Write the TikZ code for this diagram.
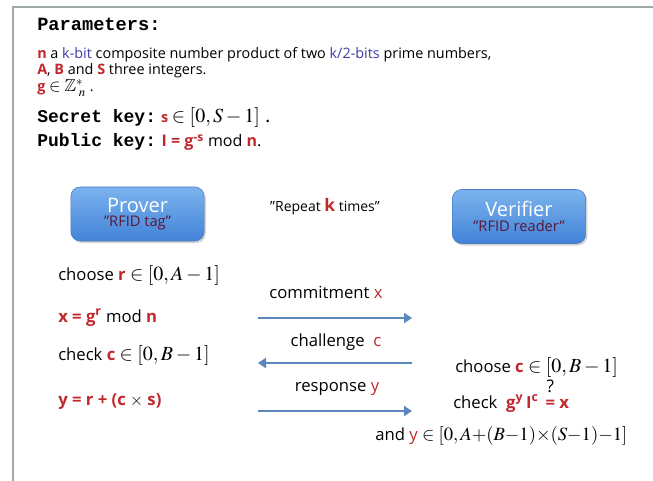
\documentclass[tikz,border=0pt]{standalone}
\usepackage{amsmath,amssymb}
\usepackage{mathptmx}
\usepackage{fontspec}
\setmainfont{Open Sans}
\setmonofont{Liberation Mono}
\usepackage{tikz}
\usetikzlibrary{arrows.meta,positioning,shadows}
\definecolor{keyred}{HTML}{C0282C}
\definecolor{bitblue}{HTML}{3C3CA8}
\definecolor{tagred}{HTML}{5C1637}
\definecolor{msgblue}{HTML}{5A88BD}
\definecolor{framegray}{HTML}{A0A8A8}
\definecolor{boxtop}{HTML}{7CB3EE}
\definecolor{boxbot}{HTML}{4283D8}
\definecolor{boxedge}{HTML}{4A7CC0}
\newcommand{\kr}[1]{\textcolor{keyred}{\textbf{#1}}}
\newcommand{\mth}[1]{{\fontsize{15}{17}\selectfont$#1$}}
\newcommand{\dq}{\symbol{34}}
\tikzset{
  hdr/.style={anchor=base west, inner sep=0pt, font=\ttfamily\bfseries\fontsize{14}{16}\selectfont}
}

\begin{document}
\begin{tikzpicture}[x=0.75pt, y=-0.75pt,
  partxt/.style={anchor=base west, inner sep=0pt, font=\fontsize{10.8}{13}\selectfont},
  txt/.style={anchor=base west, inner sep=0pt, font=\fontsize{12.5}{15}\selectfont},
  lbl/.style={anchor=base, inner sep=0pt, font=\fontsize{12.5}{15}\selectfont},
  party/.style={draw=boxedge, rounded corners=7pt, top color=boxtop, bottom color=boxbot,
    minimum width=100pt, minimum height=40.5pt, align=center, inner sep=1pt,
    drop shadow={opacity=0.35, shadow xshift=1.2pt, shadow yshift=-1.5pt}},
  msg/.style={draw=msgblue, line width=2.2pt, -{Triangle[length=6pt,width=7.5pt]}}]
\useasboundingbox (0,0) rectangle (653,481);
\draw[framegray, line width=1.5pt] (12.5,481) -- (12.5,7.5) -- (653,7.5);

% parameters
\node[hdr] (par) at (37,31) {Parameters:};
\node[partxt] (pn) at (37,59) {\kr{n} a \textcolor{bitblue}{k-bit} composite number product of two \textcolor{bitblue}{k/2-bits} prime numbers,};
\node[partxt] (pabs) at (37,75) {\kr{A}, \kr{B} and \kr{S} three integers.};
\node[partxt] (pg) at (37,92) {\kr{g} {\fontsize{13}{15}\selectfont$\in\mathbb{Z}^{*}_{\;n}$} .};
\node[partxt] (sk) at (37,123) {{\ttfamily\bfseries\fontsize{13.5}{15}\selectfont Secret key:} \kr{s} {\fontsize{15}{17}\selectfont$\in[0,S-1]$\ .}};
\node[partxt, font=\fontsize{12}{14}\selectfont] (pk) at (37,147) {{\ttfamily\bfseries\fontsize{13.5}{15}\selectfont Public key:} \kr{I}\ \kr{=}\ \kr{g}\textsuperscript{\kr{-s}} mod \kr{n}.};

% parties
\node[party] (prover) at (137.5,214) {{\fontsize{15}{17}\selectfont\color{white}Prover}\\[-1pt]{\fontsize{11}{13}\selectfont\color{tagred}\dq RFID tag\dq}};
\node[party] (verifier) at (519,216.5) {{\fontsize{15}{17}\selectfont\color{white}Verifier}\\[-1pt]{\fontsize{11}{13}\selectfont\color{tagred}\dq RFID reader\dq}};
\node[anchor=base, inner sep=0pt, font=\fontsize{10.5}{13}\selectfont] (rep) at (325,211) {\dq Repeat {\fontsize{13}{15}\selectfont\kr{k}} times\dq};

% prover side
\node[txt] (ch1) at (58,280) {choose \kr{r} \mth{\in[0,A-1]}};
\node[txt] (cx) at (58,322) {\kr{x = g}\textsuperscript{\kr{r}} mod \kr{n}};
\node[txt] (ck) at (58,360) {check \kr{c} \mth{\in[0,B-1]}};
\node[txt] (cy) at (58,405) {\kr{y = r + (c} $\times$ \kr{s)}};

% messages
\coordinate (m1a) at (258,318); \coordinate (m1b) at (412,318);
\coordinate (m2a) at (412,363); \coordinate (m2b) at (258,363);
\coordinate (m3a) at (258,411); \coordinate (m3b) at (412,411);
\draw[msg] (m1a) -- (m1b);
\draw[msg] (m2a) -- (m2b);
\draw[msg] (m3a) -- (m3b);
\node[lbl] (l1) at (326,298) {commitment \textcolor{keyred}{x}};
\node[lbl] (l2) at (336,346) {challenge\ \ \textcolor{keyred}{c}};
\node[lbl] (l3) at (337,391) {response \textcolor{keyred}{y}};

% verifier side
\node[txt] (vc) at (455,372) {choose \kr{c} \mth{\in[0,B-1]}};
\node[txt] (vchk) at (453,408) {check\ \ \kr{g}\textsuperscript{\kr{y}}\,\kr{I}\textsuperscript{\kr{c}}\, $\overset{\raisebox{3pt}{\fontsize{13}{15}\selectfont ?}}{\text{\kr{=}}}$ \kr{x}};
\node[txt] (vy) at (375,440) {and \textcolor{keyred}{y} {\fontsize{14}{16}\selectfont\medmuskip=0mu$\in[0,A+(B-1)\times(S-1)-1]$}};
\end{tikzpicture}
\end{document}
